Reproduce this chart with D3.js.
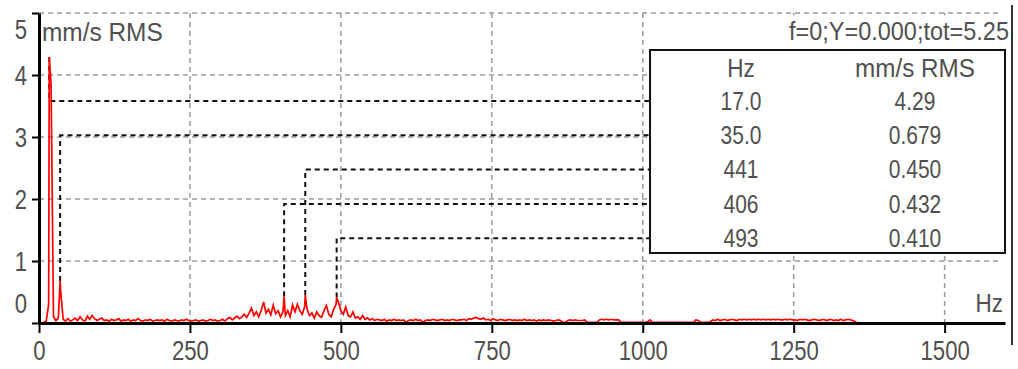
<!DOCTYPE html>
<html>
<head>
<meta charset="utf-8">
<script src="https://cdn.jsdelivr.net/npm/d3@7"></script>
<style>
body { margin: 0; background: #fff; }
text { font-family: "Liberation Sans", Arial, sans-serif; fill: #505050; }
</style>
</head>
<body>
<svg width="1018" height="369"></svg>
<script>
// spectrum bins, 4 Hz apart, starting at 0 Hz (mm/s RMS)
var binStep = 4;
var amps = [
  0, 0, 0.01, 0.03, 0.3, 3.85, 0.1, 0.04, 0.08, 0.5, 0.06, 0.03, 0.07, 0.03, 0.05, 0.08, 0.04, 0.1, 0.05, 0.03, 0.11, 0.06, 0.12, 0.07, 0.04,
  0.06, 0.08, 0.04, 0.05, 0.03, 0.06, 0.04, 0.05, 0.07, 0.03, 0.05, 0.04, 0.06, 0.03, 0.05, 0.04, 0.07, 0.04, 0.03, 0.05, 0.04, 0.06, 0.03, 0.04, 0.05,
  0.04, 0.05, 0.03, 0.06, 0.04, 0.03, 0.05, 0.04, 0.03, 0.05, 0.04, 0.06, 0.04, 0.03, 0.04, 0.05, 0.03, 0.04, 0.05, 0.03, 0.04, 0.06, 0.04, 0.05, 0.03,
  0.04, 0.06, 0.03, 0.07, 0.09, 0.05, 0.08, 0.11, 0.07, 0.1, 0.14, 0.09, 0.16, 0.24, 0.12, 0.18, 0.1, 0.2, 0.34, 0.16, 0.22, 0.13, 0.29, 0.15, 0.2,
  0.1, 0.18, 0.12, 0.2, 0.1, 0.29, 0.18, 0.3, 0.2, 0.14, 0.26, 0.22, 0.12, 0.16, 0.08, 0.18, 0.12, 0.09, 0.2, 0.28, 0.14, 0.1, 0.22, 0.3, 0.33,
  0.2, 0.14, 0.26, 0.12, 0.1, 0.18, 0.08, 0.1, 0.06, 0.12, 0.06, 0.08, 0.05, 0.07, 0.04, 0.06, 0.05, 0.04, 0.06, 0.03, 0.05, 0.04, 0.06, 0.04, 0.05,
  0.04, 0.05, 0.01, 0.04, 0.05, 0.04, 0.06, 0.04, 0.05, 0.01, 0.04, 0.05, 0.04, 0.06, 0.05, 0.04, 0.05, 0.06, 0.04, 0.05, 0.04, 0.06, 0.05, 0.04, 0.05,
  0.05, 0.06, 0.04, 0.07, 0.06, 0.08, 0.09, 0.07, 0.06, 0.08, 0.05, 0.06, 0.04, 0.07, 0.05, 0.04, 0.06, 0.05, 0.04, 0.05, 0.06, 0.04, 0.05, 0.04, 0.05,
  0.04, 0.06, 0.04, 0.05, 0.04, 0.05, 0.03, 0.05, 0.04, 0.05, 0.04, 0.05, 0.04, 0.03, 0.04, 0.05, 0.04, 0.01, 0.01, 0.04, 0.05, 0.04, 0.05, 0.04, 0.04,
  0.04, 0.05, 0.01, 0.01, 0.01, 0.01, 0.01, 0.05, 0.06, 0.05, 0.06, 0.05, 0.06, 0.05, 0.05, 0.05, 0.01, 0.01, 0.01, 0.01, 0.01, 0.01, 0.01, 0.01, 0.01,
  0.01, 0.01, 0.02, 0.05, 0.01, 0.01, 0.01, 0.01, 0.01, 0.01, 0.01, 0.01, 0.01, 0.01, 0.01, 0.01, 0.01, 0.01, 0.01, 0.01, 0.01, 0.01, 0.05, 0.04, 0.01,
  0.01, 0.01, 0.01, 0.02, 0.05, 0.04, 0.06, 0.04, 0.05, 0.06, 0.04, 0.05, 0.06, 0.05, 0.04, 0.06, 0.05, 0.06, 0.05, 0.06, 0.05, 0.06, 0.05, 0.06, 0.05,
  0.06, 0.05, 0.06, 0.05, 0.06, 0.05, 0.06, 0.05, 0.05, 0.06, 0.05, 0.06, 0.05, 0.05, 0.04, 0.06, 0.05, 0.06, 0.05, 0.04, 0.05, 0.06, 0.05, 0.04, 0.05,
  0.06, 0.04, 0.05, 0.06, 0.04, 0.05, 0.04, 0.06, 0.04, 0.05, 0.06, 0.05, 0.04, 0.02, 0, 0, 0, 0, 0, 0, 0, 0, 0, 0, 0,
  0
];

// peak list shown in the table
var peakHz  = [17, 35, 441, 406, 493];
var peakAmp = [4.29, 0.679, 0.450, 0.432, 0.410];

var xTicks = [0, 250, 500, 750, 1000, 1250, 1500];
var yTicks = [0, 1, 2, 3, 4, 5];

var unitLabel = "mm/s RMS";
var xLabel = "Hz";
var statusText = "f=0;Y=0.000;tot=5.25";

var svg = d3.select("svg");
var W = +svg.attr("width"), H = +svg.attr("height");

svg.append("rect").attr("width", W).attr("height", H).attr("fill", "#fff");

var x = d3.scaleLinear().domain([0, 1600]).range([39, 1005]);
var y = d3.scaleLinear().domain([0, 5]).range([323, 13]);

// narrow the glyphs around each text's own x (the reference font is condensed)
function squeeze(sel, sx) {
    sel.attr("transform", function () {
        var tx = +d3.select(this).attr("x") || 0;
        return "translate(" + tx + ",0) scale(" + sx + ",1) translate(" + (-tx) + ",0)";
    });
}

// grid
var grid = svg.append("g").attr("stroke", "#9a9a9a").attr("stroke-width", 1.5).attr("stroke-dasharray", "5,4");
grid.selectAll(".vg").data(xTicks.slice(1)).enter().append("line")
    .attr("x1", function (d) { return x(d); }).attr("x2", function (d) { return x(d); })
    .attr("y1", y(5)).attr("y2", y(0));
grid.selectAll(".hg").data(yTicks.slice(1)).enter().append("line")
    .attr("x1", x(0)).attr("x2", x(1590))
    .attr("y1", function (d) { return y(d); }).attr("y2", function (d) { return y(d); });

// labels with white backing
function labelWithBg(tx, ty, str, size, anchor, sx) {
    var g = svg.append("g");
    var bg = g.append("rect").attr("fill", "#fff");
    var t = g.append("text").attr("x", tx).attr("y", ty).attr("font-size", size)
        .attr("text-anchor", anchor).text(str);
    squeeze(t, sx);
    var b = t.node().getBBox();
    var w = b.width * sx, left = anchor === "end" ? tx - w : tx;
    bg.attr("x", left - 4).attr("y", b.y - 2).attr("width", w + 8).attr("height", b.height + 2);
    return t;
}
labelWithBg(42, 41, unitLabel, 26, "start", 0.94);
labelWithBg(1009, 40, statusText, 25, "end", 0.94);

// table geometry
var tbl = { x0: 650, x1: 1005, y0: 50, y1: 253, head: 68, row0: 101, rowH: 34.3 };
var rowY = function (i) { return tbl.row0 + i * tbl.rowH; };

// leader lines from each peak to its table row
var leaders = svg.append("g").attr("fill", "none").attr("stroke", "#111")
    .attr("stroke-width", 2).attr("stroke-dasharray", "5,4");
peakHz.forEach(function (f, i) {
    leaders.append("path")
        .attr("d", "M" + x(f) + "," + y(peakAmp[i]) + "V" + rowY(i) + "H" + tbl.x0);
});

// spectrum
var pts = amps.map(function (a, i) { return { f: i * binStep, a: a }; })
    .concat(peakHz.map(function (f, i) { return { f: f, a: peakAmp[i] }; }))
    .sort(function (a, b) { return a.f - b.f; });

var line = d3.line().x(function (d) { return x(d.f); }).y(function (d) { return y(d.a); });
svg.append("path").datum(pts).attr("d", line)
    .attr("fill", "none").attr("stroke", "#ff0000").attr("stroke-width", 1.7);

// axes
var xAxis = svg.append("g").attr("transform", "translate(0," + y(0) + ")")
    .call(d3.axisBottom(x).tickValues(xTicks).tickFormat(d3.format("d"))
        .tickSize(10).tickSizeOuter(0).tickPadding(8));
var yAxis = svg.append("g").attr("transform", "translate(" + x(0) + ",0)")
    .call(d3.axisLeft(y).tickValues(yTicks).tickFormat(d3.format("d"))
        .tickSize(7).tickSizeOuter(0).tickPadding(5));

[xAxis, yAxis].forEach(function (a) {
    a.select(".domain").attr("stroke", "#000").attr("stroke-width", 3);
    a.selectAll(".tick line").attr("stroke", "#000").attr("stroke-width", 2);
    a.selectAll(".tick text").attr("font-size", 27).attr("font-family", null).attr("fill", "#555");
    squeeze(a.selectAll(".tick text"), 0.82);
});
xAxis.selectAll(".tick text").attr("dy", "0.71em");
yAxis.selectAll(".tick text")
    .attr("dy", function (d) { return d === 0 ? "-0.38em" : (d === 5 ? "0.95em" : "0.34em"); });

var hz = svg.append("text").attr("x", 1003).attr("y", 312).attr("font-size", 25)
    .attr("text-anchor", "end").text(xLabel);
squeeze(hz, 0.9);

// peak table
svg.append("rect").attr("x", tbl.x0).attr("y", tbl.y0)
    .attr("width", tbl.x1 - tbl.x0).attr("height", tbl.y1 - tbl.y0)
    .attr("fill", "#fff").attr("stroke", "#111").attr("stroke-width", 2);

var fmt = d3.format(".3r");
var colX = [741, 915];
var tg = svg.append("g").attr("font-size", 25).attr("text-anchor", "middle");
squeeze(tg.append("text").attr("x", colX[0]).attr("y", tbl.head).attr("dy", "0.35em").text(xLabel), 0.9);
squeeze(tg.append("text").attr("x", colX[1]).attr("y", tbl.head).attr("dy", "0.35em").text(unitLabel), 0.97);
squeeze(tg.selectAll(".hz").data(peakHz).enter().append("text")
    .attr("x", colX[0]).attr("y", function (d, i) { return rowY(i); }).attr("dy", "0.35em")
    .text(function (d) { return fmt(d); }), 0.84);
squeeze(tg.selectAll(".amp").data(peakAmp).enter().append("text")
    .attr("x", colX[1]).attr("y", function (d, i) { return rowY(i); }).attr("dy", "0.35em")
    .text(function (d) { return fmt(d); }), 0.84);

// right window edge
svg.append("line").attr("x1", 1012).attr("x2", 1012).attr("y1", 5).attr("y2", 345)
    .attr("stroke", "#333").attr("stroke-width", 2);
</script>
</body>
</html>
